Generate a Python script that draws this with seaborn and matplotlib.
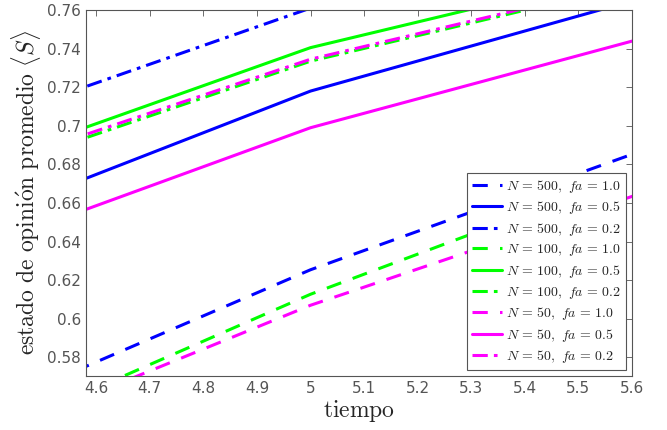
import numpy as np
import pandas as pd
import seaborn as sns
import matplotlib.pyplot as plt

# tiempos de simulacion (puntos de la curva)
tiempo = [4.0, 5.0, 6.0]

# <S> para cada N y fa
s_500_10 = [0.5059, 0.6254, 0.7251]
s_500_05 = [0.6100, 0.7180, 0.7958]
s_500_02 = [0.6640, 0.7610, 0.8400]
s_100_10 = [0.4912, 0.6127, 0.7167]
s_100_05 = [0.6420, 0.7405, 0.8070]
s_100_02 = [0.6388, 0.7335, 0.7995]
s_50_10 = [0.4935, 0.6070, 0.7010]
s_50_05 = [0.5980, 0.6990, 0.7738]
s_50_02 = [0.6415, 0.7345, 0.8005]

series = [
    (s_500_10, 500, '1.0'), (s_500_05, 500, '0.5'), (s_500_02, 500, '0.2'),
    (s_100_10, 100, '1.0'), (s_100_05, 100, '0.5'), (s_100_02, 100, '0.2'),
    (s_50_10, 50, '1.0'), (s_50_05, 50, '0.5'), (s_50_02, 50, '0.2'),
]
colores = {500: '#0000ff', 100: '#00ff00', 50: '#ff00ff'}
estilos = {'1.0': (0, (5, 4)), '0.5': '-', '0.2': (0, (5, 2, 1.2, 2))}

sns.set_style('white')
plt.rcParams['mathtext.fontset'] = 'cm'

fig = plt.figure(figsize=(6.67, 4.3), dpi=100)
ax = fig.add_axes([0.129, 0.1263, 0.8185, 0.8504])

handles = []
labels = []
for vals, n, fa in series:
    df = pd.DataFrame({'t': tiempo, 's': vals})
    sns.lineplot(data=df, x='t', y='s', ax=ax, color=colores[n], lw=2.2)
    line = ax.get_lines()[-1]
    line.set_linestyle(estilos[fa])
    handles.append(line)
    labels.append(r'$N\,=\,%d,\ fa\,=\,%s$' % (n, fa))

ax.set_xlim(4.581, 5.6)
ax.set_ylim(0.5705, 0.76)
ax.set_xticks(np.arange(4.6, 5.61, 0.1))
ax.set_xticklabels(['4.6', '4.7', '4.8', '4.9', '5', '5.1', '5.2', '5.3', '5.4', '5.5', '5.6'])
ax.set_yticks(np.arange(0.58, 0.761, 0.02))
ax.set_yticklabels(['0.58', '0.6', '0.62', '0.64', '0.66', '0.68', '0.7', '0.72', '0.74', '0.76'])
ax.tick_params(direction='in', length=4, width=0.6, colors='#555555', labelsize=11,
               top=True, right=True, labelcolor='#555555')
for sp in ax.spines.values():
    sp.set_color('#555555')
    sp.set_linewidth(0.8)

ax.set_xlabel(r'$\mathrm{tiempo}$', fontsize=17, labelpad=2)
ax.set_ylabel(r'$\mathrm{estado\ de\ opini\acute{o}n\ promedio}\ \langle S\rangle$',
              fontsize=17, labelpad=3)

leg = ax.legend(handles, labels, loc='lower right', fontsize=10, frameon=True,
                fancybox=False, borderaxespad=0.4, handlelength=2.2,
                handletextpad=0.3, labelspacing=0.33, borderpad=0.35)
leg.get_frame().set_edgecolor('#555555')
leg.get_frame().set_linewidth(0.8)
leg.get_frame().set_alpha(1)

fig.savefig('out.png', dpi=100)
